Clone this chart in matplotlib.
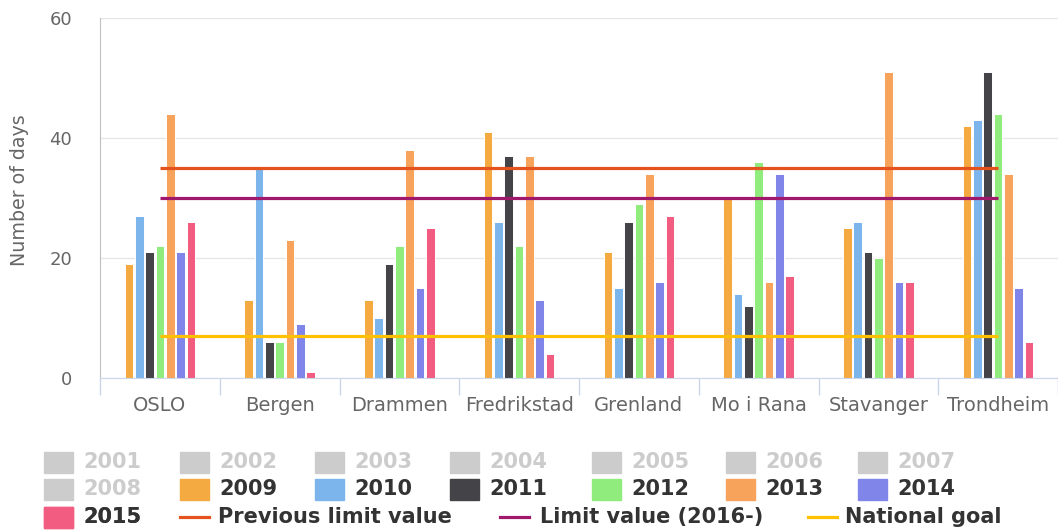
import numpy as np
import matplotlib.pyplot as plt
from matplotlib.patches import Rectangle
from matplotlib.lines import Line2D

plt.rcParams['font.family'] = ['DejaVu Sans']

# -----------------------------
# Datos
# -----------------------------
cities = ['OSLO', 'Bergen', 'Drammen', 'Fredrikstad', 'Grenland', 'Mo i Rana', 'Stavanger', 'Trondheim']
years = ['2009', '2010', '2011', '2012', '2013', '2014', '2015']
hidden_years = ['2001', '2002', '2003', '2004', '2005', '2006', '2007', '2008']

d2009 = [19, 13, 13, 41, 21, 30, 25, 42]
d2010 = [27, 35, 10, 26, 15, 14, 26, 43]
d2011 = [21, 6, 19, 37, 26, 12, 21, 51]
d2012 = [22, 6, 22, 22, 29, 36, 20, 44]
d2013 = [44, 23, 38, 37, 34, 16, 51, 34]
d2014 = [21, 9, 15, 13, 16, 34, 16, 15]
d2015 = [26, 1, 25, 4, 27, 17, 16, 6]

previous_limit = [35] * 8
limit_2016 = [30] * 8
national_goal = [7] * 8

year_colors = ['#f5a941', '#7cb5ec', '#434348', '#90ed7d', '#f7a35c', '#8085e9', '#f15c80']
line_colors = ['#e4531e', '#a0186c', '#ffc000']
line_names = ['Previous limit value', 'Limit value (2016-)', 'National goal']

W, H = 1058, 530
fig = plt.figure(figsize=(W / 100, H / 100), dpi=100)
ax = fig.add_axes([100 / W, 1 - 378 / H, 958 / W, 360 / H])

x = np.arange(len(cities))
series = [d2009, d2010, d2011, d2012, d2013, d2014, d2015]
slot = 0.0863
bw = 0.072
for i, vals in enumerate(series):
    ax.bar(x + (i - 3) * slot, vals, width=bw, color=year_colors[i],
           edgecolor='white', linewidth=0.7, zorder=2)

for vals, c in zip([previous_limit, limit_2016, national_goal], line_colors):
    ax.plot(x, vals, color=c, linewidth=2.3, zorder=3, solid_capstyle='butt')

ax.set_xlim(-0.5, len(cities) - 0.5)
ax.set_ylim(0, 60)
ax.set_yticks([0, 20, 40, 60])
ax.grid(axis='y', color='#e6e6e6', linewidth=1, zorder=0)
ax.set_axisbelow(True)

ax.set_xticks(x)
ax.set_xticklabels(cities, fontsize=14, color='#666666')
ax.set_xticks(np.arange(-0.5, len(cities)), minor=True)
ax.tick_params(axis='x', which='major', length=0, pad=13)
ax.tick_params(axis='x', which='minor', length=12, width=1, color='#ccd6eb')
ax.tick_params(axis='y', length=0, pad=20, labelsize=13, labelcolor='#666666')

for s in ['top', 'right']:
    ax.spines[s].set_visible(False)
ax.spines['left'].set_color('#c0c0c0')
ax.spines['bottom'].set_color('#ccd6eb')

fig.text(20 / W, 1 - 190 / H, 'Number of days', rotation=90, fontsize=13.7,
         color='#666666', ha='center', va='center')

# -----------------------------
# Leyenda manual
# -----------------------------
def fx(p):
    return p / W

def fy(p):
    return 1 - p / H

col_x = [44, 180, 315, 450, 592, 726, 858]
rows_y = [462, 489, 517]
fs_leg = 15
names = hidden_years + years
colors = ['#cccccc'] * 8 + year_colors
for k, (nm, c) in enumerate(zip(names, colors)):
    r = k // 7
    cx = col_x[k % 7]
    cy = rows_y[r]
    fig.add_artist(Rectangle((fx(cx), fy(cy + 10.5)), 29 / W, 21 / H,
                             transform=fig.transFigure, color=c))
    tcol = '#cccccc' if nm in hidden_years else '#333333'
    fig.text(fx(cx + 39), fy(cy), nm, fontsize=fs_leg, fontweight='bold',
             color=tcol, va='center', ha='left')

# fila 3: 2015 + lineas de referencia
cy = rows_y[2]
fig.add_artist(Rectangle((fx(44), fy(cy + 10.5)), 29 / W, 21 / H,
                         transform=fig.transFigure, color=year_colors[6]))
fig.text(fx(83), fy(cy), '2015', fontsize=fs_leg, fontweight='bold',
         color='#333333', va='center', ha='left')
line_pos = [(180, 218), (500, 540), (808, 845)]
for (lx, tx), nm, c in zip(line_pos, line_names, line_colors):
    fig.add_artist(Line2D([fx(lx), fx(lx + 29)], [fy(cy), fy(cy)],
                          transform=fig.transFigure, color=c, linewidth=2.3))
    fig.text(fx(tx), fy(cy), nm, fontsize=fs_leg, fontweight='bold',
             color='#333333', va='center', ha='left')

fig.savefig('out.png', dpi=100)
